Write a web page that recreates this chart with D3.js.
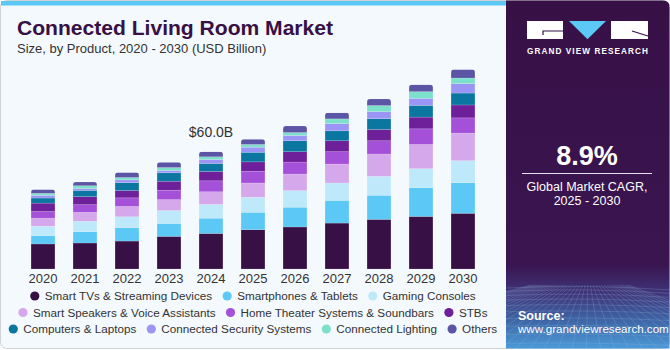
<!DOCTYPE html>
<html><head><meta charset="utf-8">
<script src="https://cdn.jsdelivr.net/npm/d3@7"></script>
<style>html,body{margin:0;padding:0;background:#fff}svg{display:block}text{font-family:"Liberation Sans",Arial,sans-serif}</style>
</head><body><svg id="c" width="670" height="350"></svg>
<script>
const years = ["2020","2021","2022","2023","2024","2025","2026","2027","2028","2029","2030"];
const seriesNames = ["Smart TVs & Streaming Devices","Smartphones & Tablets","Gaming Consoles","Smart Speakers & Voice Assistants","Home Theater Systems & Soundbars","STBs","Computers & Laptops","Connected Security Systems","Connected Lighting","Others"];
const seriesColors = ["#371046","#5BC8F5","#BDE9FA","#D5A8EC","#A450D8","#6E1F9A","#0B76A0","#9B96F5","#7CE0CB","#5A55A5"];
const smartTVs     = [12.8,13.3,14.3,16.7,18.2,20.1,21.5,23.5,25.4,26.9,28.5];
const smartphones  = [4.3,5.8,6.8,6.6,7.8,8.9,10.1,11.6,12.3,14.7,15.7];
const gaming       = [4.8,5.3,5.6,6.6,7.0,7.7,8.5,8.9,9.7,9.7,11.2];
const speakers     = [4.1,4.6,5.3,5.6,6.5,7.3,8.5,9.7,11.4,12.4,14.1];
const homeTheater  = [3.4,3.9,4.4,4.8,5.6,6.0,6.1,6.3,6.8,8.0,7.8];
const stbs         = [4.3,4.1,3.7,4.6,4.8,4.8,5.3,5.6,5.8,6.0,6.6];
const computers    = [2.6,3.2,4.1,4.3,4.1,4.9,5.6,5.1,5.5,6.0,6.1];
const security     = [1.4,1.0,1.4,1.2,2.0,2.6,2.7,3.7,3.6,3.6,4.8];
const lighting     = [1.0,1.4,1.2,1.5,1.4,1.4,1.5,2.4,3.1,3.4,2.9];
const others       = [2.0,1.9,2.6,2.7,2.6,2.7,3.4,3.1,3.4,3.6,4.4];
const labelYear = "2024";
const labelText = "$60.0B";
const cagrValue = "8.9%";
const cagrLabel = ["Global Market CAGR,","2025 - 2030"];

const seriesValues = [smartTVs,smartphones,gaming,speakers,homeTheater,stbs,computers,security,lighting,others];
const table = years.map((y,i)=>{const o={year:y}; seriesNames.forEach((n,k)=>o[n]=seriesValues[k][i]); return o;});

const svg = d3.select("#c");
// frame
svg.append("rect").attr("x",0.5).attr("y",0.5).attr("width",669).attr("height",348).attr("rx",6).attr("fill","#F4F9FD").attr("stroke","#cfd3d6");
svg.append("rect").attr("x",1).attr("y",1).attr("width",505).attr("height",4.5).attr("fill","#5BC8F5");

// right panel
const defs = svg.append("defs");
const g1 = defs.append("linearGradient").attr("id","pg").attr("x1",0).attr("x2",0).attr("y1",0).attr("y2",1);
[[0,"#371046"],[0.76,"#3a1550"],[0.84,"#3f3478"],[0.92,"#3f66a6"],[1,"#4b9ad8"]].forEach(s=>g1.append("stop").attr("offset",s[0]).attr("stop-color",s[1]));
const cp = defs.append("clipPath").attr("id","pclip");
cp.append("path").attr("d","M506,0.5 H663 Q669.5,0.5 669.5,7 V348.5 H506 Z");
svg.append("path").attr("d","M506,0.5 H663 Q669.5,0.5 669.5,7 V348.5 H506 Z").attr("fill","url(#pg)");
// grid decoration
const grid = svg.append("g").attr("clip-path","url(#pclip)").attr("stroke","#9fc3ea").attr("stroke-opacity",0.35).attr("stroke-width",0.6).attr("fill","none");
for(let k=0;k<14;k++){const y=288+k*k*0.35+k*3; grid.append("path").attr("d",`M506,${y} Q590,${y-4+k*0.3} 670,${y+2}`);}
for(let k=-12;k<=24;k++){const xt=506+k*9; grid.append("path").attr("d",`M${588+(xt-588)*0.3},285 L${588+(xt-588)*1.6},350`);}

// logo
const lg = svg.append("g");
lg.append("rect").attr("x",527).attr("y",21).attr("width",36).attr("height",18).attr("fill","#fff");
lg.append("path").attr("d","M543,35 V31 H563").attr("stroke","#371046").attr("stroke-width",1.2).attr("fill","none");
lg.append("path").attr("d","M569,21 H606 L587.5,39.3 Z").attr("fill","#5BC8F5");
lg.append("rect").attr("x",611).attr("y",21).attr("width",37).attr("height",18).attr("fill","#fff");
lg.append("path").attr("d","M632,31 L648,36").attr("stroke","#371046").attr("stroke-width",1.2).attr("fill","none");
lg.append("text").attr("x",527).attr("y",54).attr("textLength",121).attr("lengthAdjust","spacing").attr("font-size",8.2).attr("font-weight","bold").attr("fill","#fff").text("GRAND VIEW RESEARCH");

svg.append("text").attr("x",587).attr("y",165).attr("text-anchor","middle").attr("font-size",27).attr("font-weight","bold").attr("fill","#fff").text(cagrValue);
svg.append("line").attr("x1",522).attr("x2",652).attr("y1",173.5).attr("y2",173.5).attr("stroke","#e8e0ee").attr("stroke-width",1);
cagrLabel.forEach((t,i)=>svg.append("text").attr("x",587).attr("y",191+i*14).attr("text-anchor","middle").attr("font-size",12.5).attr("fill","#fff").text(t));
svg.append("text").attr("x",518).attr("y",320).attr("font-size",12.5).attr("font-weight","bold").attr("fill","#fff").text("Source:");
svg.append("text").attr("x",518).attr("y",333).attr("font-size",11.6).attr("fill","#fff").text("www.grandviewresearch.com");

// titles
svg.append("text").attr("x",17).attr("y",35).attr("font-size",20).attr("font-weight","bold").attr("fill","#371046").attr("textLength",316).attr("lengthAdjust","spacingAndGlyphs").text("Connected Living Room Market");
svg.append("text").attr("x",17).attr("y",53).attr("font-size",13).attr("fill","#333").text("Size, by Product, 2020 - 2030 (USD Billion)");

// chart
const x = d3.scaleBand().domain(years).range([22,484]).paddingInner(0.43).paddingOuter(0.215);
const y = d3.scaleLinear().domain([0,110]).range([269,269-1.955*110]);
const stack = d3.stack().keys(seriesNames)(table);
const totals = table.map(d=>d3.sum(seriesNames,n=>d[n]));

years.forEach((yr,i)=>{
  defs.append("clipPath").attr("id","bc"+i).append("rect")
    .attr("x",x(yr)).attr("y",y(totals[i])).attr("width",x.bandwidth()).attr("height",y(0)-y(totals[i])+5).attr("rx",3);
});
const bars = svg.append("g");
stack.forEach((s,k)=>{
  bars.selectAll(null).data(s).enter().append("rect")
    .attr("clip-path",(d,i)=>`url(#bc${i})`)
    .attr("x",d=>x(d.data.year)).attr("width",x.bandwidth())
    .attr("y",d=>y(d[1])).attr("height",d=>y(d[0])-y(d[1]))
    .attr("fill",seriesColors[k]).attr("stroke","#ffffff").attr("stroke-opacity",0.25).attr("stroke-width",0.6);
});

const xa = svg.append("g").attr("transform","translate(0,269)").call(d3.axisBottom(x).tickSize(0).tickPadding(5));
xa.select(".domain").remove();
xa.selectAll("text").attr("font-size",13).attr("fill","#333").attr("font-family","Liberation Sans, Arial, sans-serif");

const li = years.indexOf(labelYear);
svg.append("text").attr("x",x(labelYear)+x.bandwidth()/2).attr("y",y(totals[li])-15).attr("text-anchor","middle").attr("font-size",14).attr("fill","#333").text(labelText);

// legend
const rows = [[0,1,2],[3,4,5],[6,7,8,9]];
const legRowY = [296,312.5,329];
const lgG = svg.append("g");
rows.forEach((r,ri)=>{
  const row = lgG.append("g");
  let cx = 0;
  r.forEach((k,j)=>{
    row.append("circle").attr("cx",cx).attr("cy",0).attr("r",4.6).attr("fill",seriesColors[k]);
    const t = row.append("text").attr("x",cx+10).attr("y",4.2).attr("font-size",11.7).attr("fill","#333").text(seriesNames[k]);
    const w = t.node().getComputedTextLength();
    cx = cx+10+w+15;
  });
  const bb = row.node().getBBox();
  const center = 253;
  row.attr("transform",`translate(${center-(bb.x+bb.width/2)},${legRowY[ri]})`);
});
</script></body></html>
